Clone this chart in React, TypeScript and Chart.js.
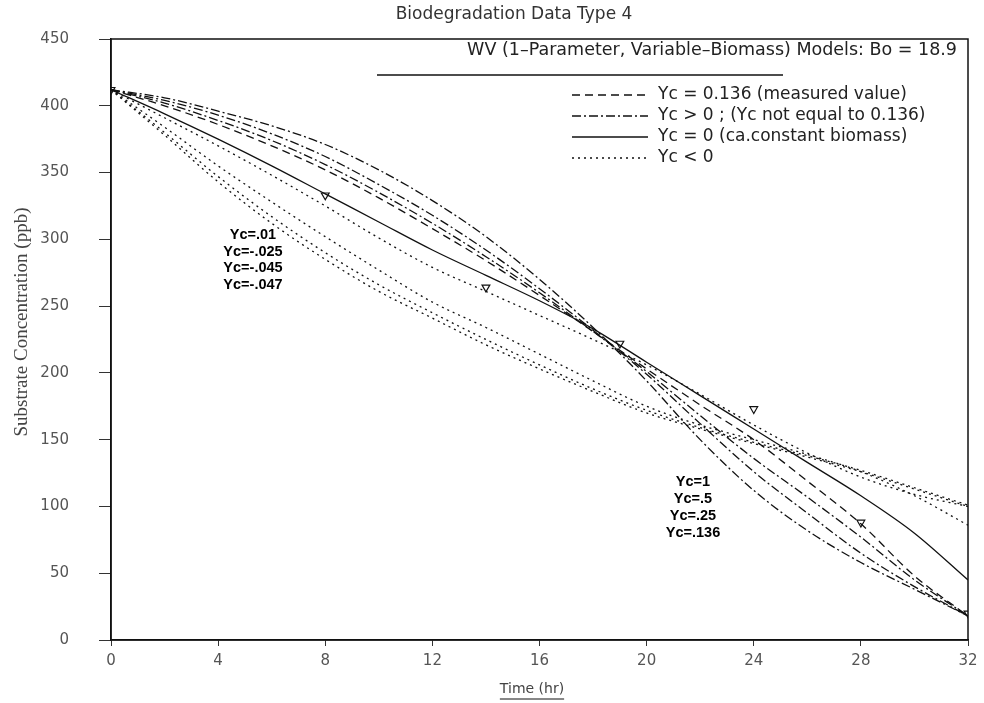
import React, { useEffect, useRef } from "react";
import { Chart, registerables } from "chart.js";
Chart.register(...registerables);

// Time (hr)
const time = [0, 2, 4, 6, 8, 10, 12, 14, 16, 18, 20, 22, 24, 26, 28, 30, 32];

// Yc > 0 curves (dash-dot) and measured Yc = 0.136 (dashed)
const yc1 = [412, 406, 396, 385, 371, 352, 329, 302, 270, 234, 194, 150, 112, 82, 58, 38, 18];
const yc05 = [412, 404, 393, 379, 362, 341, 318, 292, 263, 232, 199, 162, 126, 95, 65, 40, 18];
const yc025 = [412, 402, 389, 374, 356, 335, 312, 287, 260, 231, 201, 168, 136, 107, 77, 45, 18];
const yc0136 = [412, 400, 386, 370, 352, 331, 308, 284, 258, 231, 203, 176, 150, 119, 87, 48, 18];
// Yc = 0 (solid)
const yc0 = [412, 394, 375, 355, 334, 313, 292, 273, 254, 233, 208, 183, 158, 133, 108, 80, 45];
// Yc < 0 (dotted)
const ycm01 = [412, 391, 370, 348, 325, 301, 279, 261, 243, 225, 206, 184, 161, 140, 122, 109, 100];
const ycm025 = [412, 384, 355, 328, 302, 277, 253, 234, 214, 194, 175, 161, 150, 139, 126, 108, 86];
const ycm045 = [412, 380, 347, 317, 290, 266, 245, 225, 206, 188, 172, 159, 148, 138, 127, 114, 101];
const ycm047 = [412, 378, 343, 312, 285, 261, 241, 221, 203, 186, 170, 158, 147, 137, 126, 113, 100];

// Observed data (triangles)
const obsTime = [0, 8, 14, 19, 24, 28, 32];
const obsConc = [412, 333, 264, 222, 173, 88, 20];

// Tick settings
const xTicks = [0, 4, 8, 12, 16, 20, 24, 28, 32];
const yTicks = [0, 50, 100, 150, 200, 250, 300, 350, 400, 450];

const titleText = "Biodegradation Data Type 4";
const legendHeader = "WV (1\u2013Parameter, Variable\u2013Biomass) Models: Bo = 18.9";
const legendLabels = [
  "Yc = 0.136 (measured value)",
  "Yc > 0 ; (Yc not equal to 0.136)",
  "Yc = 0 (ca.constant biomass)",
  "Yc < 0",
];
const leftNotes = ["Yc=.01", "Yc=-.025", "Yc=-.045", "Yc=-.047"];
const rightNotes = ["Yc=1", "Yc=.5", "Yc=.25", "Yc=.136"];

const DASH = [8, 5];
const DASHDOT = [9, 3, 2, 3];
const DOT = [2, 4];
const SOLID: number[] = [];

export default function App() {
  const ref = useRef<HTMLCanvasElement>(null);
  useEffect(() => {
    const canvas = ref.current!;
    const mk = (label: string, vals: number[], dash: number[]) => ({
      label,
      data: time.map((t, i) => ({ x: t, y: vals[i] })),
      borderColor: "#111",
      borderWidth: 1.3,
      borderDash: dash,
      pointRadius: 0,
      fill: false,
      cubicInterpolationMode: "monotone" as const,
    });

    const overlay = {
      id: "overlay",
      afterDraw(chart: any) {
        const ctx = chart.ctx as CanvasRenderingContext2D;
        const a = chart.chartArea;
        ctx.save();
        ctx.strokeStyle = "#111";
        ctx.lineWidth = 1.5;
        ctx.setLineDash([]);
        ctx.strokeRect(a.left, a.top, a.right - a.left, a.bottom - a.top);

        ctx.fillStyle = "#333";
        // Title
        ctx.font = '17px "DejaVu Sans"';
        ctx.textAlign = "center";
        ctx.textBaseline = "middle";
        ctx.fillText(titleText, 514, 15);

        // Y title
        ctx.save();
        ctx.translate(22, 322);
        ctx.rotate(-Math.PI / 2);
        ctx.font = '19px "Liberation Serif"';
        ctx.fillStyle = "#444";
        ctx.fillText("Substrate Concentration (ppb)", 0, 0);
        ctx.restore();

        // X title underlined
        ctx.font = '14px "DejaVu Sans"';
        ctx.fillStyle = "#444";
        ctx.fillText("Time (hr)", 532, 689);
        const tw = ctx.measureText("Time (hr)").width;
        ctx.lineWidth = 1;
        ctx.beginPath();
        ctx.moveTo(532 - tw / 2, 699);
        ctx.lineTo(532 + tw / 2, 699);
        ctx.stroke();

        // Legend header
        ctx.fillStyle = "#222";
        ctx.textAlign = "right";
        ctx.font = '17.5px "DejaVu Sans"';
        ctx.fillText(legendHeader, 957, 50);
        ctx.lineWidth = 1.3;
        ctx.beginPath();
        ctx.moveTo(377, 75);
        ctx.lineTo(783, 75);
        ctx.stroke();

        const dashes = [DASH, DASHDOT, SOLID, DOT];
        const ys = [95, 116, 137, 158];
        ctx.textAlign = "left";
        ctx.font = '17px "DejaVu Sans"';
        for (let i = 0; i < 4; i++) {
          ctx.setLineDash(dashes[i]);
          ctx.beginPath();
          ctx.moveTo(572, ys[i]);
          ctx.lineTo(648, ys[i]);
          ctx.stroke();
          ctx.setLineDash([]);
          ctx.fillText(legendLabels[i], 658, ys[i]);
        }

        // Curve annotations
        ctx.fillStyle = "#000";
        ctx.textAlign = "center";
        ctx.font = 'bold 14.5px "Liberation Sans"';
        const ly = [235, 252, 268, 285];
        leftNotes.forEach((s, i) => ctx.fillText(s, 253, ly[i]));
        const ry = [482, 499, 516, 533];
        rightNotes.forEach((s, i) => ctx.fillText(s, 693, ry[i]));
        ctx.restore();
      },
    };

    const chart = new Chart(canvas, {
      type: "line",
      data: {
        datasets: [
          mk("Yc=1", yc1, DASHDOT),
          mk("Yc=.5", yc05, DASHDOT),
          mk("Yc=.25", yc025, DASHDOT),
          mk("Yc=.136", yc0136, DASH),
          mk("Yc=0", yc0, SOLID),
          mk("Yc=-.01", ycm01, DOT),
          mk("Yc=-.025", ycm025, DOT),
          mk("Yc=-.045", ycm045, DOT),
          mk("Yc=-.047", ycm047, DOT),
          {
            label: "Observed",
            data: obsTime.map((t, i) => ({ x: t, y: obsConc[i] })),
            showLine: false,
            pointStyle: "triangle",
            rotation: 180,
            pointRadius: 4.5,
            borderColor: "#111",
            borderWidth: 1.2,
            backgroundColor: "rgba(255,255,255,0)",
          } as any,
        ],
      },
      options: {
        responsive: false,
        animation: false,
        layout: { padding: { top: 33, right: 16, left: 0, bottom: 0 } },
        plugins: { legend: { display: false }, tooltip: { enabled: false }, title: { display: false } },
        scales: {
          x: {
            type: "linear",
            min: 0,
            max: 32,
            afterBuildTicks: (s: any) => {
              s.ticks = xTicks.map((v) => ({ value: v }));
            },
            ticks: { color: "#555", font: { family: "DejaVu Sans", size: 15 }, padding: 6, maxRotation: 0 },
            grid: { drawOnChartArea: false, drawTicks: true, tickLength: 6, color: "#333" },
            border: { color: "#111", width: 1.5 },
            afterFit: (s: any) => {
              s.height = 63;
            },
          },
          y: {
            type: "linear",
            min: 0,
            max: 450,
            afterBuildTicks: (s: any) => {
              s.ticks = yTicks.map((v) => ({ value: v }));
            },
            ticks: { color: "#555", font: { family: "DejaVu Sans", size: 15 }, padding: 30 },
            grid: { drawOnChartArea: false, drawTicks: true, tickLength: 12, color: "#333" },
            border: { color: "#111", width: 1.5 },
            afterFit: (s: any) => {
              s.width = 111;
            },
          },
        },
      },
      plugins: [overlay],
    } as any);
    return () => chart.destroy();
  }, []);
  return (
    <div style={{ position: "fixed", left: 0, top: 0, width: 984, height: 703, background: "#fff" }}>
      <canvas ref={ref} width={984} height={703} style={{ display: "block" }} />
    </div>
  );
}
